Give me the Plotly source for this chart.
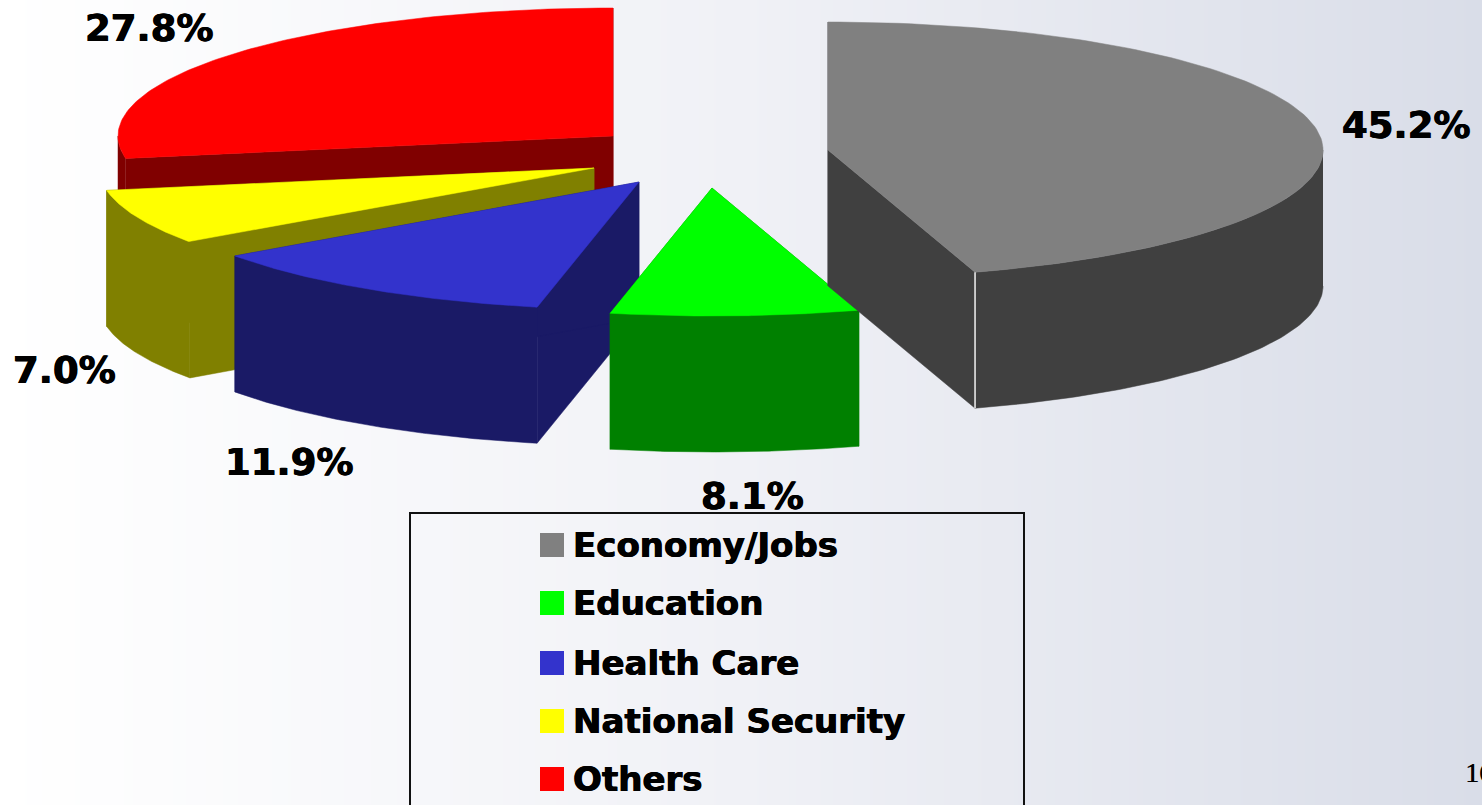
import numpy as np
import plotly.graph_objects as go

categories = ["Economy/Jobs", "Education", "Health Care", "National Security", "Others"]
values = [45.2, 8.1, 11.9, 7.0, 27.8]
top_colors = ["#808080", "#00FF00", "#3333CC", "#FFFF00", "#FF0000"]
side_colors = ["#404040", "#008000", "#1A1A66", "#808000", "#800000"]
centers = [(828, 150), (712, 188), (639, 182), (594, 168), (613, 136)]
label_pos = [(1406, 125), (752, 496), (289, 462), (64, 370), (149, 28)]
legend_y = [545, 603, 663, 721, 779]

RX, RY, DEPTH = 495, 128, 136
W, H = 1482, 805

fig = go.Figure()
fig.add_trace(go.Heatmap(
    x=[0, 370, 740, 1110, W], y=[0, H],
    z=[[0, 0.25, 0.5, 0.75, 1], [0, 0.25, 0.5, 0.75, 1]],
    zsmooth="best", showscale=False, hoverinfo="skip",
    colorscale=[[0, "#FFFFFF"], [0.5, "#F0F1F6"], [1, "#D9DDE8"]],
))


def poly(xs, ys, color, name):
    fig.add_trace(go.Scatter(
        x=xs, y=ys, mode="lines", fill="toself", fillcolor=color,
        line=dict(color=color, width=0.5), name=name, showlegend=False, hoverinfo="name",
    ))


def rim(cx, cy, t):
    return cx + RX * np.sin(t), cy - RY * np.cos(t)


# angular extents from the values, clockwise from 12 o'clock
edges = np.radians(np.concatenate([[0], np.cumsum(values)]) * 360 / sum(values))
slices = list(range(len(values)))

for i in reversed(slices):  # back to front: last slice first
    cx, cy = centers[i]
    a, b = edges[i], edges[i + 1]
    for t in (a, b):  # radial walls
        x, y = rim(cx, cy, t)
        poly([cx, x, x, cx, cx], [cy, y, y + DEPTH, cy + DEPTH, cy], side_colors[i], categories[i])
    lo, hi = max(a, np.pi / 2), min(b, 3 * np.pi / 2)
    if hi > lo:  # front-facing outer wall
        t = np.linspace(lo, hi, 80)
        x, y = rim(cx, cy, t)
        poly(np.r_[x, x[::-1]], np.r_[y, y[::-1] + DEPTH], side_colors[i], categories[i])
    t = np.linspace(a, b, 120)
    x, y = rim(cx, cy, t)
    poly(np.r_[cx, x, cx], np.r_[cy, y, cy], top_colors[i], categories[i])

# light seam on the first slice's corner
sx, sy = rim(*centers[0], edges[1])
fig.add_trace(go.Scatter(x=[sx, sx], y=[sy, sy + DEPTH], mode="lines",
                         line=dict(color="#F2F2F2", width=1.5), showlegend=False, hoverinfo="skip"))

fig.add_shape(type="rect", x0=410, x1=1024, y0=513, y1=840, line=dict(color="#111111", width=2), layer="above")
fig.add_trace(go.Scatter(
    x=[552] * len(categories), y=legend_y, mode="markers",
    marker=dict(symbol="square", size=24, color=top_colors, line=dict(width=0)),
    showlegend=False, hoverinfo="skip",
))

heavy = "0.6px 0 0 #000, -0.4px 0 0 #000"
pct_font = dict(family="DejaVu Sans", size=37, color="#000000", weight="bold", shadow=heavy)
leg_font = dict(family="DejaVu Sans", size=34, color="#000000", weight="bold", shadow=heavy)
annotations = []
for v, (lx, ly) in zip(values, label_pos):
    annotations.append(dict(x=lx, y=ly, text=f"{v:.1f}%", showarrow=False, font=pct_font))
for c, ly in zip(categories, legend_y):
    annotations.append(dict(x=571, y=ly, text=c, xanchor="left", showarrow=False, font=leg_font))
annotations.append(dict(x=1463, y=772, text="16", xanchor="left", showarrow=False,
                        font=dict(family="Liberation Serif", size=28, color="#000000", shadow="0.4px 0 0 #000")))

fig.update_layout(
    width=W, height=H, margin=dict(l=0, r=0, t=0, b=0), showlegend=False,
    paper_bgcolor="#FFFFFF", plot_bgcolor="#FFFFFF", annotations=annotations,
    xaxis=dict(range=[0, W], visible=False, fixedrange=True),
    yaxis=dict(range=[H, 0], visible=False, fixedrange=True),
)
fig.write_html("out.html", config=dict(displayModeBar=False),
               post_script="document.body.style.margin='0';document.body.style.overflow='hidden';")
